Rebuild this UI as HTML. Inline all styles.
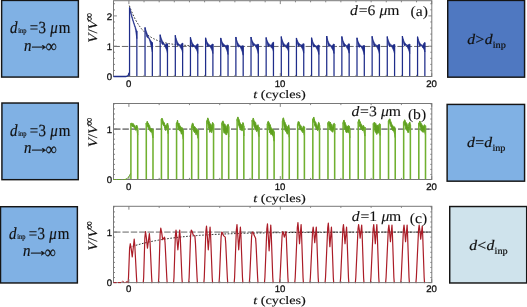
<!DOCTYPE html>
<html><head><meta charset="utf-8"><title>figure</title>
<style>html,body{margin:0;padding:0;background:#fff;overflow:hidden}svg{display:block}</style>
</head><body>
<svg width="527" height="307" viewBox="0 0 527 307" text-rendering="geometricPrecision">
<rect width="527" height="307" fill="#fff"/>
<rect x="1.62" y="0.42" width="76.75" height="76.65" fill="#80b1e4" stroke="#151515" stroke-width="1.45"/>
<rect x="1.92" y="103.02" width="76.35" height="76.65" fill="#80b1e4" stroke="#151515" stroke-width="1.45"/>
<rect x="0.52" y="206.72" width="76.85" height="76.25" fill="#80b1e4" stroke="#151515" stroke-width="1.45"/>
<rect x="447.73" y="0.42" width="76.85" height="76.75" fill="#4f78c1" stroke="#151515" stroke-width="1.45"/>
<rect x="447.12" y="104.42" width="77.45" height="76.75" fill="#80b1e4" stroke="#151515" stroke-width="1.45"/>
<rect x="449.73" y="206.53" width="76.95" height="76.45" fill="#cfe3ec" stroke="#151515" stroke-width="1.45"/>
<g font-family='"Liberation Serif","DejaVu Serif",serif' font-size="17" fill="#111" stroke="#111" stroke-width="0.2"><text transform="translate(0 33.3) scale(0.88 1)"><tspan x="11.48" font-style="italic">d</tspan><tspan x="20.8" font-size="7.3">inp</tspan><tspan x="33.86">=</tspan><tspan x="43.86">3</tspan><tspan x="57.05" font-style="italic">μ</tspan><tspan x="66.82">m</tspan></text><text transform="translate(0 50.9) scale(0.88 1)"><tspan x="27.27" font-style="italic">n</tspan><tspan x="52.05" dy="1.3" font-size="17.6">∞</tspan></text><text transform="translate(27.2 50.2) scale(1.38 1)">→</text></g>
<g font-family='"Liberation Serif","DejaVu Serif",serif' font-size="17" fill="#111" stroke="#111" stroke-width="0.2"><text transform="translate(0 135.8) scale(0.88 1)"><tspan x="11.48" font-style="italic">d</tspan><tspan x="20.8" font-size="7.3">inp</tspan><tspan x="33.86">=</tspan><tspan x="43.86">3</tspan><tspan x="57.05" font-style="italic">μ</tspan><tspan x="66.82">m</tspan></text><text transform="translate(0 153.4) scale(0.88 1)"><tspan x="27.27" font-style="italic">n</tspan><tspan x="52.05" dy="1.3" font-size="17.6">∞</tspan></text><text transform="translate(27.2 152.7) scale(1.38 1)">→</text></g>
<g font-family='"Liberation Serif","DejaVu Serif",serif' font-size="17" fill="#111" stroke="#111" stroke-width="0.2"><text transform="translate(0 238.6) scale(0.88 1)"><tspan x="10.34" font-style="italic">d</tspan><tspan x="19.66" font-size="7.3">inp</tspan><tspan x="32.73">=</tspan><tspan x="42.73">3</tspan><tspan x="55.91" font-style="italic">μ</tspan><tspan x="65.68">m</tspan></text><text transform="translate(0 256.2) scale(0.88 1)"><tspan x="26.14" font-style="italic">n</tspan><tspan x="50.91" dy="1.3" font-size="17.6">∞</tspan></text><text transform="translate(26.2 255.5) scale(1.38 1)">→</text></g>
<text transform="translate(467.3 44) scale(1.075 1)" font-family='"Liberation Serif","DejaVu Serif",serif' font-size="14.6" fill="#111" stroke="#111" stroke-width="0.2"><tspan font-style="italic">d</tspan><tspan dx="0.3">&gt;</tspan><tspan dx="0.3" font-style="italic">d</tspan><tspan font-size="9.5" dy="3.6" dx="0.2">inp</tspan></text>
<text transform="translate(467 147) scale(1.075 1)" font-family='"Liberation Serif","DejaVu Serif",serif' font-size="14.6" fill="#111" stroke="#111" stroke-width="0.2"><tspan font-style="italic">d</tspan><tspan dx="0.3">=</tspan><tspan dx="0.3" font-style="italic">d</tspan><tspan font-size="9.5" dy="3.6" dx="0.2">inp</tspan></text>
<text transform="translate(469.2 250.2) scale(1.075 1)" font-family='"Liberation Serif","DejaVu Serif",serif' font-size="14.6" fill="#111" stroke="#111" stroke-width="0.2"><tspan font-style="italic">d</tspan><tspan dx="0.3">&lt;</tspan><tspan dx="0.3" font-style="italic">d</tspan><tspan font-size="9.5" dy="3.6" dx="0.2">inp</tspan></text>
<path d="M113.5 46.45H431.8" stroke="#555" stroke-width="0.9" stroke-dasharray="6.4 1.95" fill="none"/>
<polyline points="129.35,5.6 130.11,7.68 130.87,9.65 131.63,11.53 132.38,13.31 133.14,14.99 133.9,16.59 134.65,18.11 135.41,19.55 136.17,20.92 136.92,22.21 137.68,23.44 138.44,24.61 139.2,25.72 139.95,26.77 140.71,27.76 141.47,28.71 142.22,29.61 142.98,30.46 143.74,31.26 144.49,32.03 145.25,32.76 146.01,33.45 146.77,34.1 147.52,34.72 148.28,35.31 149.04,35.87 149.79,36.4 150.55,36.9 151.31,37.38 152.06,37.83 152.82,38.26 153.58,38.66 154.34,39.05 155.09,39.42 155.85,39.77 156.61,40.1 157.36,40.41 158.12,40.71 158.88,40.99 159.63,41.25 160.39,41.51 161.15,41.75 161.91,41.98 162.66,42.19 163.42,42.4 164.18,42.59 164.93,42.78 165.69,42.95 166.45,43.12 167.2,43.28 167.96,43.43 168.72,43.57 169.48,43.7 170.23,43.83 170.99,43.95 171.75,44.07 172.5,44.18 173.26,44.28 174.02,44.38 174.77,44.47 175.53,44.56 176.29,44.65 177.05,44.73 177.8,44.8 178.56,44.87 179.32,44.94 180.07,45.01 180.83,45.07 181.59,45.13 182.34,45.18 183.1,45.23 183.86,45.28 184.62,45.33 185.37,45.37 186.13,45.42 186.89,45.46 187.64,45.49 188.4,45.53 189.16,45.56 189.91,45.6 190.67,45.63 191.43,45.66 192.19,45.69 192.94,45.71" fill="none" stroke="#1a1a1a" stroke-width="0.9" stroke-dasharray="1.7 1.5"/>
<g fill="#1f2d8a" stroke="#1f2d8a" stroke-width="0.7" stroke-linejoin="round"><polygon points="129.55,7.42 130.16,9.77 130.77,12.04 131.38,14.24 131.98,16.36 132.59,18.42 133.2,20.41 133.81,22.33 134.42,24.2 135.03,26 135.63,27.74 136.24,29.42 136.85,31.05 136.85,38.62 136.24,34.47 135.63,30.26 135.03,27.51 134.42,25.71 133.81,23.85 133.2,21.93 132.59,19.94 131.98,17.88 131.38,15.75 130.77,13.55 130.16,11.28 129.55,8.93"/><polygon points="145.04,27.41 145.65,29.48 146.26,31.34 146.87,33.03 147.47,34.56 148.08,35.94 148.69,37.2 149.3,38.33 149.91,39.35 150.52,40.28 151.12,41.12 151.73,41.88 152.34,42.56 152.34,51.96 151.73,49.03 151.12,46.27 150.52,43.7 149.91,41.38 149.3,39.43 148.69,38.29 148.08,37.73 147.47,37.7 146.87,36.97 146.26,34.48 145.65,31.27 145.04,28.51"/><polygon points="160.18,34.69 160.79,36.86 161.4,38.66 162,40.16 162.61,41.42 163.22,42.46 163.83,43.32 164.44,44.05 165.05,44.65 165.66,44.52 166.26,44.01 166.87,43.71 167.48,43.78 167.48,53.17 166.87,50.86 166.26,49.15 165.66,47.94 165.05,46.68 164.44,45.15 163.83,44.42 163.22,44.25 162.61,44.55 162,44.1 161.4,41.8 160.79,38.65 160.18,35.78"/><polygon points="175.32,35.29 175.93,37.83 176.54,39.81 177.14,41.35 177.75,42.55 178.36,43.48 178.97,44.21 179.58,44.78 180.19,45.22 180.79,44.78 181.4,43.88 182.01,43.29 182.62,43.17 182.62,52.56 182.01,50.44 181.4,49.03 180.79,48.2 180.19,47.25 179.58,45.88 178.97,45.31 178.36,45.27 177.75,45.68 177.14,45.29 176.54,42.94 175.93,39.62 175.32,36.39"/><polygon points="190.46,37.23 191.07,39.58 191.68,41.37 192.28,42.75 192.89,43.8 193.5,44.6 194.11,45.22 194.72,45.7 195.33,46.06 195.94,45.59 196.54,44.7 197.15,44.1 197.76,43.95 197.76,53.35 197.15,51.25 196.54,49.84 195.94,49.01 195.33,48.09 194.72,46.8 194.11,46.32 193.5,46.4 192.89,46.93 192.28,46.68 191.68,44.51 191.07,41.37 190.46,38.33"/><polygon points="205.6,37.84 206.21,39.87 206.82,41.42 207.43,42.6 208.03,43.51 208.64,44.21 209.25,44.74 209.86,45.15 210.47,45.46 211.08,45.18 211.68,44.59 212.29,44.2 212.9,44.12 212.9,53.51 212.29,51.35 211.68,49.74 211.08,48.6 210.47,47.49 209.86,46.25 209.25,45.84 208.64,46 208.03,46.65 207.43,46.54 206.82,44.55 206.21,41.66 205.6,38.94"/><polygon points="220.74,37.88 221.35,39.91 221.96,41.46 222.56,42.65 223.17,43.56 223.78,44.26 224.39,44.79 225,45.2 225.61,45.51 226.22,45.49 226.82,45.28 227.43,45.15 228.04,45.16 228.04,54.56 227.43,52.3 226.82,50.43 226.22,48.91 225.61,47.54 225,46.3 224.39,45.89 223.78,46.05 223.17,46.69 222.56,46.59 221.96,44.59 221.35,41.7 220.74,38.98"/><polygon points="235.88,36.97 236.49,39.41 237.1,41.28 237.7,42.72 238.31,43.81 238.92,44.66 239.53,45.3 240.14,45.79 240.75,46.17 241.35,46.15 241.96,45.92 242.57,45.78 243.18,45.8 243.18,55.19 242.57,52.93 241.96,51.07 241.35,49.58 240.75,48.2 240.14,46.89 239.53,46.4 238.92,46.45 238.31,46.95 237.7,46.66 237.1,44.42 236.49,41.2 235.88,38.07"/><polygon points="251.02,36.99 251.63,39.09 252.24,40.7 252.84,41.94 253.45,42.88 254.06,43.6 254.67,44.16 255.28,44.58 255.89,44.91 256.5,44.82 257.1,44.52 257.71,44.33 258.32,44.32 258.32,53.71 257.71,51.48 257.1,49.67 256.5,48.25 255.89,46.94 255.28,45.68 254.67,45.26 254.06,45.39 253.45,46.02 252.84,45.88 252.24,43.84 251.63,40.88 251.02,38.09"/><polygon points="266.16,37.48 266.77,39.55 267.38,41.14 267.98,42.35 268.59,43.28 269.2,44 269.81,44.54 270.42,44.96 271.03,45.28 271.63,44.55 272.24,43.28 272.85,42.43 273.46,42.19 273.46,51.58 272.85,49.58 272.24,48.43 271.63,47.97 271.03,47.31 270.42,46.06 269.81,45.64 269.2,45.79 268.59,46.42 267.98,46.29 267.38,44.27 266.77,41.34 266.16,38.58"/><polygon points="281.3,36.62 281.91,39 282.52,40.83 283.12,42.23 283.73,43.3 284.34,44.12 284.95,44.75 285.56,45.23 286.17,45.6 286.78,44.88 287.38,43.61 287.99,42.76 288.6,42.52 288.6,51.91 287.99,49.91 287.38,48.76 286.78,48.3 286.17,47.63 285.56,46.33 284.95,45.84 284.34,45.91 283.73,46.43 283.12,46.17 282.52,43.96 281.91,40.79 281.3,37.72"/><polygon points="296.44,37.91 297.05,39.77 297.66,41.2 298.27,42.29 298.87,43.13 299.48,43.77 300.09,44.26 300.7,44.64 301.31,44.93 301.92,44.69 302.52,44.17 303.13,43.83 303.74,43.76 303.74,53.15 303.13,50.98 302.52,49.32 301.92,48.11 301.31,46.96 300.7,45.74 300.09,45.36 299.48,45.56 298.87,46.27 298.27,46.23 297.66,44.33 297.05,41.56 296.44,39"/><polygon points="311.58,37.67 312.19,39.92 312.8,41.64 313.41,42.97 314.01,43.98 314.62,44.75 315.23,45.35 315.84,45.8 316.45,46.15 317.06,45.94 317.66,45.43 318.27,45.1 318.88,45.05 318.88,54.44 318.27,52.25 317.66,50.58 317.06,49.36 316.45,48.18 315.84,46.9 315.23,46.44 314.62,46.54 314.01,47.11 313.41,46.9 312.8,44.78 312.19,41.71 311.58,38.77"/><polygon points="326.72,36.04 327.33,38.66 327.94,40.67 328.55,42.21 329.15,43.38 329.76,44.29 330.37,44.98 330.98,45.51 331.59,45.91 332.2,45.53 332.8,44.74 333.41,44.22 334.02,44.11 334.02,53.5 333.41,51.37 332.8,49.89 332.2,48.95 331.59,47.94 330.98,46.61 330.37,46.07 329.76,46.08 329.15,46.52 328.55,46.15 327.94,43.8 327.33,40.45 326.72,37.14"/><polygon points="341.86,36.47 342.47,38.9 343.08,40.76 343.69,42.19 344.29,43.28 344.9,44.12 345.51,44.76 346.12,45.25 346.73,45.63 347.34,45.25 347.94,44.48 348.55,43.97 349.16,43.86 349.16,53.26 348.55,51.12 347.94,49.63 347.34,48.67 346.73,47.66 346.12,46.35 345.51,45.86 344.9,45.91 344.29,46.42 343.69,46.13 343.08,43.9 342.47,40.69 341.86,37.57"/><polygon points="357,37.87 357.61,40.1 358.22,41.8 358.82,43.11 359.43,44.11 360.04,44.88 360.65,45.47 361.26,45.92 361.87,46.26 362.48,46.13 363.08,45.74 363.69,45.49 364.3,45.47 364.3,54.86 363.69,52.64 363.08,50.89 362.48,49.55 361.87,48.29 361.26,47.02 360.65,46.56 360.04,46.67 359.43,47.25 358.82,47.05 358.22,44.94 357.61,41.89 357,38.96"/><polygon points="372.14,36.37 372.75,38.8 373.36,40.66 373.96,42.09 374.57,43.18 375.18,44.02 375.79,44.66 376.4,45.15 377.01,45.52 377.62,45.33 378.22,44.84 378.83,44.52 379.44,44.47 379.44,53.86 378.83,51.66 378.22,49.98 377.62,48.75 377.01,47.56 376.4,46.25 375.79,45.76 375.18,45.81 374.57,46.32 373.96,46.03 373.36,43.8 372.75,40.59 372.14,37.47"/><polygon points="387.28,36.6 387.89,38.96 388.5,40.77 389.1,42.16 389.71,43.22 390.32,44.04 390.93,44.66 391.54,45.14 392.15,45.5 392.75,45.31 393.36,44.83 393.97,44.51 394.58,44.47 394.58,53.86 393.97,51.66 393.36,49.97 392.75,48.73 392.15,47.53 391.54,46.24 390.93,45.76 390.32,45.83 389.71,46.36 389.1,46.1 388.5,43.91 387.89,40.75 387.28,37.7"/><polygon points="402.42,36.09 403.03,38.47 403.64,40.29 404.24,41.69 404.85,42.76 405.46,43.57 406.07,44.2 406.68,44.68 407.29,45.05 407.89,44.9 408.5,44.49 409.11,44.22 409.72,44.19 409.72,53.58 409.11,51.37 408.5,49.63 407.89,48.33 407.29,47.08 406.68,45.78 406.07,45.3 405.46,45.37 404.85,45.89 404.24,45.63 403.64,43.43 403.03,40.26 402.42,37.19"/><polygon points="417.56,36.63 418.17,38.95 418.78,40.73 419.39,42.1 419.99,43.14 420.6,43.94 421.21,44.55 421.82,45.02 422.43,45.38 423.04,44.74 423.64,43.58 424.25,42.8 424.86,42.59 424.86,51.99 424.25,49.95 423.64,48.73 423.04,48.16 422.43,47.41 421.82,46.12 421.21,45.65 420.6,45.73 419.99,46.28 419.39,46.04 418.78,43.87 418.17,40.74 417.56,37.72"/></g>
<path d="M129.55 76.5V7.42M136.85 31.05V76.5M145.04 76.5V27.41M152.34 42.56V76.5M160.18 76.5V34.69M167.48 43.78V76.5M175.32 76.5V35.29M182.62 43.17V76.5M190.46 76.5V37.23M197.76 43.95V76.5M205.6 76.5V37.84M212.9 44.12V76.5M220.74 76.5V37.88M228.04 45.16V76.5M235.88 76.5V36.97M243.18 45.8V76.5M251.02 76.5V36.99M258.32 44.32V76.5M266.16 76.5V37.48M273.46 42.19V76.5M281.3 76.5V36.62M288.6 42.52V76.5M296.44 76.5V37.91M303.74 43.76V76.5M311.58 76.5V37.67M318.88 45.05V76.5M326.72 76.5V36.04M334.02 44.11V76.5M341.86 76.5V36.47M349.16 43.86V76.5M357 76.5V37.87M364.3 45.47V76.5M372.14 76.5V36.37M379.44 44.47V76.5M387.28 76.5V36.6M394.58 44.47V76.5M402.42 76.5V36.09M409.72 44.19V76.5M417.56 76.5V36.63M424.86 42.59V76.5" fill="none" stroke="#1f2d8a" stroke-width="1.25"/>
<rect x="113.5" y="0.7" width="318.3" height="75.8" fill="none" stroke="#787878" stroke-width="1"/>
<path d="M128.9 0.7v3.4M128.9 76.5v-3.4M144.04 0.7v1.6M144.04 76.5v-1.6M159.18 0.7v1.6M159.18 76.5v-1.6M174.32 0.7v1.6M174.32 76.5v-1.6M189.46 0.7v1.6M189.46 76.5v-1.6M204.6 0.7v1.6M204.6 76.5v-1.6M219.74 0.7v1.6M219.74 76.5v-1.6M234.88 0.7v1.6M234.88 76.5v-1.6M250.02 0.7v1.6M250.02 76.5v-1.6M265.16 0.7v1.6M265.16 76.5v-1.6M280.3 0.7v3.4M280.3 76.5v-3.4M295.44 0.7v1.6M295.44 76.5v-1.6M310.58 0.7v1.6M310.58 76.5v-1.6M325.72 0.7v1.6M325.72 76.5v-1.6M340.86 0.7v1.6M340.86 76.5v-1.6M356 0.7v1.6M356 76.5v-1.6M371.14 0.7v1.6M371.14 76.5v-1.6M386.28 0.7v1.6M386.28 76.5v-1.6M401.42 0.7v1.6M401.42 76.5v-1.6M416.56 0.7v1.6M416.56 76.5v-1.6M431.7 0.7v3.4M431.7 76.5v-3.4M113.5 76.5h3.4M431.8 76.5h-3.4M113.5 70.44h1.5M431.8 70.44h-1.5M113.5 64.38h1.5M431.8 64.38h-1.5M113.5 58.32h1.5M431.8 58.32h-1.5M113.5 52.26h1.5M431.8 52.26h-1.5M113.5 46.2h3.4M431.8 46.2h-3.4M113.5 40.14h1.5M431.8 40.14h-1.5M113.5 34.08h1.5M431.8 34.08h-1.5M113.5 28.02h1.5M431.8 28.02h-1.5M113.5 21.96h1.5M431.8 21.96h-1.5M113.5 15.9h3.4M431.8 15.9h-3.4M113.5 9.84h1.5M431.8 9.84h-1.5M113.5 3.78h1.5M431.8 3.78h-1.5" fill="none" stroke="#787878" stroke-width="0.9"/>
<path d="M113.5 76.5L125.87 76.5L128.14 75.59L129.2 72.86" fill="none" stroke="#1f2d8a" stroke-width="1.3"/>
<text transform="translate(112.2 80.1) scale(1.0 1)" text-anchor="end" font-family='"Liberation Sans","DejaVu Sans",sans-serif' font-size="9.6" fill="#111" stroke="#111" stroke-width="0.3">0</text>
<text transform="translate(112.2 49.8) scale(1.0 1)" text-anchor="end" font-family='"Liberation Sans","DejaVu Sans",sans-serif' font-size="9.6" fill="#111" stroke="#111" stroke-width="0.3">1</text>
<text transform="translate(112.2 19.5) scale(1.0 1)" text-anchor="end" font-family='"Liberation Sans","DejaVu Sans",sans-serif' font-size="9.6" fill="#111" stroke="#111" stroke-width="0.3">2</text>
<text transform="translate(128.7 86.7) scale(1.0 1)" text-anchor="middle" font-family='"Liberation Sans","DejaVu Sans",sans-serif' font-size="9.6" fill="#111" stroke="#111" stroke-width="0.3">0</text>
<text transform="translate(280.1 86.7) scale(1.0 1)" text-anchor="middle" font-family='"Liberation Sans","DejaVu Sans",sans-serif' font-size="9.6" fill="#111" stroke="#111" stroke-width="0.3">10</text>
<text transform="translate(431.5 86.7) scale(1.0 1)" text-anchor="middle" font-family='"Liberation Sans","DejaVu Sans",sans-serif' font-size="9.6" fill="#111" stroke="#111" stroke-width="0.3">20</text>
<text transform="translate(253.2 97.7) scale(1.24 1)" font-family='"Liberation Serif","DejaVu Serif",serif' font-size="11.5" fill="#111" stroke="#111" stroke-width="0.15"><tspan font-style="italic">t</tspan> (cycles)</text>
<text transform="translate(97.4 42.7) rotate(-90) scale(1.15 1)" font-family='"Liberation Serif","DejaVu Serif",serif' font-size="13" fill="#111" stroke="#111" stroke-width="0.15"><tspan font-style="italic">V</tspan>/<tspan font-style="italic">V</tspan></text>
<text transform="translate(92.6 21.1) rotate(-90) scale(0.9 1)" font-family='"Liberation Serif","DejaVu Serif",serif' font-size="12.5" fill="#111" stroke="#111" stroke-width="0.15">∞</text>
<g font-family='"Liberation Serif","DejaVu Serif",serif' font-size="14.5" fill="#111" stroke="#111" stroke-width="0.1"><text transform="translate(350 15.4) scale(1.08 1)"><tspan x="0" font-style="italic">d</tspan><tspan x="8.06">=</tspan><tspan x="16.2">6</tspan><tspan x="27.41" font-style="italic">μ</tspan><tspan x="34.54">m</tspan></text><text transform="translate(410.6 15.6) scale(1.08 1)">(a)</text></g>
<path d="M114.1 129.1H431.8" stroke="#868686" stroke-width="1.6" stroke-dasharray="6.4 1.95" fill="none"/>
<g fill="#5f9f1f" stroke="#64a524" stroke-width="1.0" stroke-linejoin="round"><polygon points="130.9,123.34 131.39,123.28 131.87,123.26 132.36,124.15 132.84,123.3 133.33,123.65 133.81,124.58 134.3,125.37 134.79,125.39 135.27,126.66 135.76,127.73 136.24,125.74 136.73,125.01 137.21,126.17 137.7,127.92 137.7,135.07 137.21,131.88 136.73,128.38 136.24,128.78 135.76,130.38 135.27,129.29 134.79,128.49 134.3,127.77 133.81,127.24 133.33,125.92 132.84,125.92 132.36,126.82 131.87,125.49 131.39,125.7 130.9,124.53"/><polygon points="146.29,123.02 146.77,122.86 147.25,121.16 147.73,122.97 148.2,122.97 148.68,123.85 149.16,125.57 149.64,125.42 150.12,127.68 150.6,128.28 151.08,128.35 151.55,128.72 152.03,128.58 152.51,128.88 152.99,129.67 152.99,137.88 152.51,136.09 152.03,133.26 151.55,131.55 151.08,132.21 150.6,131.75 150.12,131.21 149.64,130.28 149.16,129.67 148.68,127.94 148.2,127.79 147.73,127.04 147.25,123.97 146.77,125.38 146.29,124.22"/><polygon points="161.43,119.22 161.91,118.07 162.39,118.66 162.87,120.37 163.34,121.48 163.82,122.17 164.3,122.86 164.78,124.48 165.26,125.19 165.74,126.24 166.22,125.41 166.69,124.56 167.17,123.54 167.65,123.01 168.13,125.58 168.13,133.72 167.65,130.27 167.17,127.83 166.69,127.89 166.22,128.59 165.74,130.66 165.26,128.98 164.78,128.1 164.3,126.48 163.82,126.06 163.34,125.13 162.87,124.55 162.39,121.93 161.91,121.19 161.43,121.41"/><polygon points="176.57,123.02 177.05,122.03 177.53,120.04 178.01,122.75 178.48,123.99 178.96,123.02 179.44,124.52 179.92,126.08 180.4,126.15 180.88,127.01 181.36,128.82 181.83,127.35 182.31,128.02 182.79,128.85 183.27,130.43 183.27,139.19 182.79,135.85 182.31,134.35 181.83,132.52 181.36,134.16 180.88,131.86 180.4,131.54 179.92,131.15 179.44,129.96 178.96,129.55 178.48,129.86 178.01,128.12 177.53,124.5 177.05,124.52 176.57,125.28"/><polygon points="191.71,126.06 192.19,123.45 192.67,122.99 193.15,123.77 193.62,126 194.1,126.76 194.58,126.6 195.06,126.84 195.54,127.88 196.02,129.68 196.5,128.54 196.97,128.93 197.45,130.33 197.93,130.55 198.41,130.1 198.41,138.75 197.93,138.23 197.45,136.4 196.97,133.31 196.5,133.59 196.02,134.76 195.54,133.38 195.06,132.07 194.58,132.68 194.1,131.95 193.62,131.08 193.15,128.58 192.67,127.92 192.19,126.46 191.71,128.11"/><polygon points="206.85,120.69 207.33,119.53 207.81,117.86 208.29,119.03 208.76,120.48 209.24,121.75 209.72,123.86 210.2,123.58 210.68,123.99 211.16,125.08 211.64,126.67 212.11,124.19 212.59,122.34 213.07,123.06 213.55,124.23 213.55,134.07 213.07,131.11 212.59,129.13 212.11,129.86 211.64,132.7 211.16,132.34 210.68,131 210.2,131.08 209.72,132.38 209.24,129.26 208.76,128.09 208.29,126.81 207.81,123.05 207.33,124.06 206.85,121.89"/><polygon points="221.99,122.71 222.47,121.34 222.95,120.85 223.43,121.96 223.9,123.7 224.38,124.19 224.86,123.87 225.34,125.46 225.82,125.76 226.3,127.43 226.78,127.41 227.25,124.9 227.73,124.57 228.21,124.22 228.69,126.38 228.69,136.95 228.21,133.3 227.73,132.74 227.25,131.64 226.78,134.21 226.3,135.06 225.82,134.14 225.34,133.83 224.86,132.71 224.38,133.2 223.9,132.94 223.43,129.35 222.95,126.46 222.47,125.65 221.99,125.1"/><polygon points="237.13,119.2 237.61,117.18 238.09,116.98 238.57,119.46 239.04,119.21 239.52,121.92 240,122.36 240.48,123.79 240.96,123.94 241.44,124.47 241.92,125.27 242.39,124.88 242.87,122.48 243.35,123.04 243.83,125.88 243.83,135.91 243.35,130.64 242.87,128.28 242.39,130.51 241.92,130.83 241.44,129.53 240.96,130.21 240.48,129.26 240,128.09 239.52,127.93 239.04,126.13 238.57,125.35 238.09,122.43 237.61,120.89 237.13,120.94"/><polygon points="252.27,120 252.75,119.44 253.23,117.97 253.71,119.34 254.18,121.38 254.66,121.07 255.14,123.08 255.62,122.48 256.1,124.71 256.58,125.67 257.06,125.82 257.53,125.37 258.01,124.73 258.49,126.71 258.97,127.02 258.97,136.55 258.49,135.04 258.01,130.51 257.53,130.96 257.06,130.49 256.58,131.59 256.1,130.1 255.62,129.21 255.14,130.08 254.66,127.55 254.18,127.42 253.71,124.96 253.23,121.96 252.75,122.54 252.27,121.52"/><polygon points="267.41,123.71 267.89,121.47 268.37,121.31 268.85,122.19 269.32,123.08 269.8,125.01 270.28,124.66 270.76,127.09 271.24,127.67 271.72,128.62 272.2,129.18 272.67,129.09 273.15,129.44 273.63,130.31 274.11,131.64 274.11,141.22 273.63,138.58 273.15,136.47 272.67,135.41 272.2,135.16 271.72,134.55 271.24,134.03 270.76,134.41 270.28,131.93 269.8,132.95 269.32,130.66 268.85,128.42 268.37,126.28 267.89,125.53 267.41,124.82"/><polygon points="282.55,120.65 283.03,117.95 283.51,117.89 283.99,119.9 284.46,121.35 284.94,121.95 285.42,123.8 285.9,124.19 286.38,125.91 286.86,127.7 287.34,128.18 287.81,126.24 288.29,125.86 288.77,124.87 289.25,128.1 289.25,137.28 288.77,133.2 288.29,132.94 287.81,131.14 287.34,134.25 286.86,133.15 286.38,131.98 285.9,131 285.42,131.2 284.94,129.8 284.46,128.29 283.99,126.67 283.51,122.92 283.03,120.95 282.55,122.38"/><polygon points="297.69,123.67 298.17,121.43 298.65,121.8 299.13,121.86 299.6,123.92 300.08,124.67 300.56,125.2 301.04,125.95 301.52,127.17 302,127.63 302.48,128.71 302.95,127.17 303.43,126.04 303.91,126.17 304.39,127.11 304.39,135.41 303.91,133.33 303.43,131.63 302.95,131.25 302.48,132.54 302,131.24 301.52,131.03 301.04,129.86 300.56,129.58 300.08,129.6 299.6,128.02 299.13,126.02 298.65,125.19 298.17,125 297.69,125.07"/><polygon points="312.83,118.82 313.31,118.99 313.79,116.97 314.27,118.6 314.74,121 315.22,121.41 315.7,121.92 316.18,123.45 316.66,124.32 317.14,126.28 317.62,126.79 318.09,124.5 318.57,122.33 319.05,122.63 319.53,125.2 319.53,132.88 319.05,129.72 318.57,127.71 318.09,128.93 317.62,130.67 317.14,129.84 316.66,129.06 316.18,128.66 315.7,127.21 315.22,126.84 314.74,125.84 314.27,123.49 313.79,120.91 313.31,122.34 312.83,120.8"/><polygon points="327.97,122.48 328.45,122.22 328.93,121.34 329.41,122.13 329.88,122.99 330.36,122.15 330.84,124.03 331.32,124.1 331.8,124.89 332.28,126.63 332.76,126.33 333.23,124.19 333.71,123.6 334.19,123.26 334.67,124.04 334.67,133.74 334.19,131.43 333.71,129.33 333.23,129.53 332.76,132.22 332.28,131.89 331.8,131.19 331.32,130.86 330.84,130.65 330.36,128.99 329.88,130.02 329.41,128.51 328.93,125.66 328.45,126.09 327.97,124.48"/><polygon points="343.11,122.62 343.59,120.55 344.07,119.96 344.55,122.9 345.02,122.21 345.5,123.84 345.98,125.17 346.46,126.01 346.94,126.97 347.42,126.14 347.9,126.77 348.37,125.43 348.85,126.18 349.33,126.11 349.81,128.61 349.81,137.92 349.33,133.18 348.85,133.05 348.37,130.83 347.9,132.15 347.42,131.22 346.94,132.91 346.46,132.31 345.98,132.29 345.5,130.13 345.02,129.38 344.55,128.7 344.07,125.45 343.59,123.53 343.11,123.8"/><polygon points="358.25,121.85 358.73,119.65 359.21,119.42 359.69,121.73 360.16,121.49 360.64,123.26 361.12,123.94 361.6,124.41 362.08,125.58 362.56,127.18 363.04,126.13 363.51,125.37 363.99,126.6 364.47,127.32 364.95,127.09 364.95,136.09 364.47,133.91 363.99,131.77 363.51,128.88 363.04,129.86 362.56,130.81 362.08,129.65 361.6,128.77 361.12,129.44 360.64,127.94 360.16,126.86 359.69,126.75 359.21,123.65 358.73,121.73 358.25,123.34"/><polygon points="373.39,123.42 373.87,122.67 374.35,122.07 374.83,122.66 375.3,124.19 375.78,123.45 376.26,124.9 376.74,125.78 377.22,124.93 377.7,126.08 378.18,126.28 378.65,125.23 379.13,124.07 379.61,123.58 380.09,124.13 380.09,135.47 379.61,132.35 379.13,132.48 378.65,131.49 378.18,133.29 377.7,133.36 377.22,132.55 376.74,134.54 376.26,133.47 375.78,131.98 375.3,132.34 374.83,130.8 374.35,128.37 373.87,126.26 373.39,125.26"/><polygon points="388.53,120.85 389.01,119.65 389.49,118.96 389.97,118.88 390.44,120.92 390.92,121.74 391.4,123.13 391.88,124.24 392.36,125.51 392.84,125.45 393.32,127.03 393.79,127 394.27,126.91 394.75,126.86 395.23,129.78 395.23,137.62 394.75,134.37 394.27,132.93 393.79,130.93 393.32,130.95 392.84,130.45 392.36,130.16 391.88,129.77 391.4,127.48 390.92,126.71 390.44,125.83 389.97,123.87 389.49,122.96 389.01,122.18 388.53,122.38"/><polygon points="403.67,121.87 404.15,121.06 404.63,119.72 405.11,120.31 405.58,122.87 406.06,122.82 406.54,122.73 407.02,124.07 407.5,125.18 407.98,126.74 408.46,126.38 408.93,123.14 409.41,122.78 409.89,121.92 410.37,124.85 410.37,133.55 409.89,130.04 409.41,128.7 408.93,127.97 408.46,132.42 407.98,132.84 407.5,131.2 407.02,130.69 406.54,129.56 406.06,129.79 405.58,128.86 405.11,125.83 404.63,125.11 404.15,125.16 403.67,122.88"/><polygon points="418.81,123.11 419.29,122.33 419.77,120.97 420.25,121.51 420.72,122.69 421.2,123.95 421.68,123.81 422.16,125.95 422.64,125.38 423.12,126.95 423.6,125.86 424.07,126.18 424.55,124.63 425.03,125.41 425.51,125.86 425.51,134.98 425.03,133.42 424.55,130.91 424.07,130.74 423.6,130.5 423.12,132.51 422.64,130.81 422.16,131.74 421.68,129.56 421.2,130.88 420.72,128.36 420.25,127.6 419.77,126.23 419.29,125.33 418.81,125.02"/></g>
<path d="M130.9 179.5V123.34M137.7 127.92V179.5M146.29 179.5V123.02M152.99 129.67V179.5M161.43 179.5V119.22M168.13 125.58V179.5M176.57 179.5V123.02M183.27 130.43V179.5M191.71 179.5V126.06M198.41 130.1V179.5M206.85 179.5V120.69M213.55 124.23V179.5M221.99 179.5V122.71M228.69 126.38V179.5M237.13 179.5V119.2M243.83 125.88V179.5M252.27 179.5V120M258.97 127.02V179.5M267.41 179.5V123.71M274.11 131.64V179.5M282.55 179.5V120.65M289.25 128.1V179.5M297.69 179.5V123.67M304.39 127.11V179.5M312.83 179.5V118.82M319.53 125.2V179.5M327.97 179.5V122.48M334.67 124.04V179.5M343.11 179.5V122.62M349.81 128.61V179.5M358.25 179.5V121.85M364.95 127.09V179.5M373.39 179.5V123.42M380.09 124.13V179.5M388.53 179.5V120.85M395.23 129.78V179.5M403.67 179.5V121.87M410.37 124.85V179.5M418.81 179.5V123.11M425.51 125.86V179.5" fill="none" stroke="#70b030" stroke-width="1.55"/>
<rect x="113.5" y="103.5" width="318.3" height="76" fill="none" stroke="#787878" stroke-width="1"/>
<path d="M128.9 103.5v3.4M128.9 179.5v-3.4M159.18 103.5v1.6M159.18 179.5v-1.6M189.46 103.5v1.6M189.46 179.5v-1.6M219.74 103.5v1.6M219.74 179.5v-1.6M250.02 103.5v1.6M250.02 179.5v-1.6M280.3 103.5v3.4M280.3 179.5v-3.4M310.58 103.5v1.6M310.58 179.5v-1.6M340.86 103.5v1.6M340.86 179.5v-1.6M371.14 103.5v1.6M371.14 179.5v-1.6M401.42 103.5v1.6M401.42 179.5v-1.6M431.7 103.5v3.4M431.7 179.5v-3.4M113.5 179.5h3.4M431.8 179.5h-3.4M113.5 174.46h1.5M431.8 174.46h-1.5M113.5 169.42h1.5M431.8 169.42h-1.5M113.5 164.38h1.5M431.8 164.38h-1.5M113.5 159.34h1.5M431.8 159.34h-1.5M113.5 154.3h1.5M431.8 154.3h-1.5M113.5 149.26h1.5M431.8 149.26h-1.5M113.5 144.22h1.5M431.8 144.22h-1.5M113.5 139.18h1.5M431.8 139.18h-1.5M113.5 134.14h1.5M431.8 134.14h-1.5M113.5 129.1h3.4M431.8 129.1h-3.4M113.5 124.06h1.5M431.8 124.06h-1.5M113.5 119.02h1.5M431.8 119.02h-1.5M113.5 113.98h1.5M431.8 113.98h-1.5M113.5 108.94h1.5M431.8 108.94h-1.5M113.5 103.9h1.5M431.8 103.9h-1.5" fill="none" stroke="#787878" stroke-width="0.9"/>
<path d="M113.5 179.5L125.12 179.5L128.6 177.48L130.5 173.45" fill="none" stroke="#64a524" stroke-width="0.9" stroke-dasharray="2.5 1 4 2 40"/>
<text transform="translate(112.2 183.1) scale(1.0 1)" text-anchor="end" font-family='"Liberation Sans","DejaVu Sans",sans-serif' font-size="9.6" fill="#111" stroke="#111" stroke-width="0.3">0</text>
<text transform="translate(112.2 132.7) scale(1.0 1)" text-anchor="end" font-family='"Liberation Sans","DejaVu Sans",sans-serif' font-size="9.6" fill="#111" stroke="#111" stroke-width="0.3">1</text>
<text transform="translate(128.7 190.1) scale(1.0 1)" text-anchor="middle" font-family='"Liberation Sans","DejaVu Sans",sans-serif' font-size="9.6" fill="#111" stroke="#111" stroke-width="0.3">0</text>
<text transform="translate(280.1 190.1) scale(1.0 1)" text-anchor="middle" font-family='"Liberation Sans","DejaVu Sans",sans-serif' font-size="9.6" fill="#111" stroke="#111" stroke-width="0.3">10</text>
<text transform="translate(431.5 190.1) scale(1.0 1)" text-anchor="middle" font-family='"Liberation Sans","DejaVu Sans",sans-serif' font-size="9.6" fill="#111" stroke="#111" stroke-width="0.3">20</text>
<text transform="translate(253.2 201.9) scale(1.24 1)" font-family='"Liberation Serif","DejaVu Serif",serif' font-size="11.5" fill="#111" stroke="#111" stroke-width="0.15"><tspan font-style="italic">t</tspan> (cycles)</text>
<text transform="translate(97.4 147.3) rotate(-90) scale(1.15 1)" font-family='"Liberation Serif","DejaVu Serif",serif' font-size="13" fill="#111" stroke="#111" stroke-width="0.15"><tspan font-style="italic">V</tspan>/<tspan font-style="italic">V</tspan></text>
<text transform="translate(92.6 125.7) rotate(-90) scale(0.9 1)" font-family='"Liberation Serif","DejaVu Serif",serif' font-size="12.5" fill="#111" stroke="#111" stroke-width="0.15">∞</text>
<g font-family='"Liberation Serif","DejaVu Serif",serif' font-size="14.5" fill="#111" stroke="#111" stroke-width="0.1"><text transform="translate(351.4 115.5) scale(1.08 1)"><tspan x="0" font-style="italic">d</tspan><tspan x="8.06">=</tspan><tspan x="16.2">3</tspan><tspan x="27.41" font-style="italic">μ</tspan><tspan x="34.54">m</tspan></text><text transform="translate(407.9 118.6) scale(1.08 1)">(b)</text></g>
<path d="M114.1 232.1H431.8" stroke="#a6a6a6" stroke-width="1.9" stroke-dasharray="6.4 1.95" fill="none"/>
<polyline points="129.66,247.25 131.17,246.75 132.69,246.27 134.2,245.81 135.71,245.36 137.23,244.92 138.74,244.5 140.25,244.1 141.77,243.7 143.28,243.32 144.8,242.96 146.31,242.6 147.83,242.26 149.34,241.92 150.85,241.6 152.37,241.29 153.88,240.99 155.4,240.7 156.91,240.41 158.42,240.14 159.94,239.88 161.45,239.62 162.97,239.38 164.48,239.14 165.99,238.91 167.51,238.68 169.02,238.47 170.54,238.26 172.05,238.06 173.56,237.86 175.08,237.67 176.59,237.49 178.11,237.31 179.62,237.14 181.13,236.98 182.65,236.82 184.16,236.66 185.68,236.51 187.19,236.37 188.7,236.23 190.22,236.09 191.73,235.96 193.25,235.84 194.76,235.71 196.27,235.6 197.79,235.48 199.3,235.37 200.81,235.26 202.33,235.16 203.84,235.06 205.36,234.96 206.87,234.87 208.38,234.78 209.9,234.69 211.41,234.6 212.93,234.52 214.44,234.44 215.95,234.37 217.47,234.29 218.98,234.22 220.5,234.15 222.01,234.08 223.52,234.02 225.04,233.96 226.55,233.89 228.07,233.84 229.58,233.78 231.09,233.72 232.61,233.67 234.12,233.62 235.64,233.57 237.15,233.52 238.66,233.47 240.18,233.43 241.69,233.39 243.21,233.34 244.72,233.3 246.23,233.26 247.75,233.23 249.26,233.19 250.78,233.15 252.29,233.12 253.8,233.08 255.32,233.05 256.83,233.02 258.35,232.99 259.86,232.96 261.37,232.93 262.89,232.91 264.4,232.88 265.92,232.85 267.43,232.83 268.94,232.81 270.46,232.78 271.97,232.76 273.49,232.74 275,232.72 276.51,232.7 278.03,232.68 279.54,232.66 281.06,232.64 282.57,232.62 284.08,232.61 285.6,232.59 287.11,232.57 288.63,232.56 290.14,232.54 291.65,232.53 293.17,232.51 294.68,232.5 296.2,232.49 297.71,232.47 299.22,232.46 300.74,232.45 302.25,232.44 303.77,232.43 305.28,232.42 306.79,232.41 308.31,232.4 309.82,232.39 311.34,232.38 312.85,232.37 314.36,232.36 315.88,232.35 317.39,232.34 318.91,232.33 320.42,232.33 321.93,232.32 323.45,232.31 324.96,232.31 326.48,232.3 327.99,232.29 329.5,232.29 331.02,232.28 332.53,232.27 334.05,232.27 335.56,232.26 337.07,232.26 338.59,232.25 340.1,232.25 341.62,232.24 343.13,232.24 344.64,232.23 346.16,232.23 347.67,232.22 349.19,232.22 350.7,232.22 352.21,232.21 353.73,232.21 355.24,232.21 356.76,232.2 358.27,232.2 359.78,232.2 361.3,232.19 362.81,232.19 364.33,232.19 365.84,232.18 367.35,232.18 368.87,232.18 370.38,232.18 371.9,232.17 373.41,232.17 374.92,232.17 376.44,232.17 377.95,232.16 379.47,232.16 380.98,232.16 382.49,232.16 384.01,232.16 385.52,232.15 387.04,232.15 388.55,232.15 390.06,232.15 391.58,232.15 393.09,232.15 394.61,232.14 396.12,232.14 397.63,232.14 399.15,232.14 400.66,232.14 402.18,232.14 403.69,232.14 405.2,232.14 406.72,232.13 408.23,232.13 409.75,232.13 411.26,232.13 412.77,232.13 414.29,232.13 415.8,232.13 417.32,232.13 418.83,232.13 420.35,232.13 421.86,232.12 423.37,232.12 424.89,232.12 426.4,232.12 427.92,232.12 429.43,232.12 430.94,232.12" fill="none" stroke="#1a1a1a" stroke-width="0.9" stroke-dasharray="1.7 1.5"/>
<path d="M128.1 283.11L128.5 277.55L129.6 248.38L130.3 243.72L131.28 249.27L132.25 256.85L133.23 248.01L134.2 239.17L134.8 245.25L136.5 277.55L136.9 283.11M143.25 283.11L143.66 277.55L144.85 237.55L145.54 231.6L146.5 238.92L147.46 248.26L148.42 240.94L149.37 233.62L149.96 240.47L151.64 277.55L152.04 283.11M158.4 283.11L158.81 277.55L160.1 234.24L160.78 228.06L161.72 232.86L162.66 239.68L163.61 238.41L164.55 237.15L165.11 243.51L166.78 277.55L167.18 283.11M173.55 283.11L173.97 277.55L175.35 235.86L176.02 230.08L176.94 238.92L177.87 249.78L178.79 239.93L179.72 230.08L180.27 237.43L181.92 277.55L182.32 283.11M188.69 283.11L189.13 277.55L190.59 235.68L191.26 230.08L192.17 231.34L193.08 234.63L193.99 235.38L194.89 236.14L195.43 242.64L197.06 277.55L197.46 283.11M203.84 283.11L204.28 277.55L205.84 231.88L206.5 226.04L207.39 236.9L208.28 249.78L209.18 238.41L210.07 227.05L210.58 234.83L212.2 277.55L212.6 283.11M218.99 283.11L219.44 277.55L221.09 237.15L221.74 232.1L222.62 232.86L223.49 235.64L224.37 236.39L225.24 237.15L225.74 243.51L227.34 277.55L227.74 283.11M234.14 283.11L234.6 277.55L236.34 230.14L236.98 224.53L237.84 236.14L238.7 249.78L239.56 238.41L240.41 227.05L240.9 234.83L242.48 277.55L242.88 283.11M249.29 283.11L249.75 277.55L251.59 236.81L252.22 232.1L253.06 232.35L253.9 234.63L254.75 236.39L255.59 238.16L256.05 244.38L257.62 277.55L258.02 283.11M264.43 283.11L264.91 277.55L266.83 229.06L267.46 223.77L268.28 236.27L269.11 250.79L269.93 237.91L270.76 225.03L271.21 233.09L272.76 277.55L273.16 283.11M279.58 283.11L280.07 277.55L282.08 236.02L282.7 231.6L283.51 233.36L284.32 237.15L285.12 234.37L285.93 231.6L286.37 238.74L287.9 277.55L288.3 283.11M294.73 283.11L295.22 277.55L297.33 227.51L297.94 222.51L298.73 232.1L299.52 243.72L300.32 234.12L301.11 224.53L301.52 232.66L303.04 277.55L303.44 283.11M309.88 283.11L310.38 277.55L312.58 231.49L313.18 227.05L313.96 233.87L314.73 242.71L315.5 234.88L316.28 227.05L316.68 234.83L318.18 277.55L318.58 283.11M325.02 283.11L325.52 277.55L327.72 227.78L328.32 223.01L329.1 233.87L329.87 246.75L330.64 236.9L331.42 227.05L331.82 234.83L333.32 277.55L333.72 283.11M340.16 283.11L340.66 277.55L342.86 229.17L343.46 224.53L344.24 233.11L345.01 243.72L345.78 235.38L346.56 227.05L346.96 234.83L348.46 277.55L348.86 283.11M355.3 283.11L355.8 277.55L358 229.17L358.6 224.53L359.38 230.33L360.15 238.16L360.92 231.6L361.7 225.03L362.1 233.09L363.6 277.55L364 283.11M370.44 283.11L370.94 277.55L373.14 229.17L373.74 224.53L374.51 233.11L375.29 243.72L376.06 234.12L376.84 224.53L377.24 232.66L378.74 277.55L379.14 283.11M385.58 283.11L386.08 277.55L388.28 229.64L388.88 225.03L389.65 232.35L390.43 241.7L391.2 233.36L391.98 225.03L392.38 233.09L393.88 277.55L394.28 283.11M400.72 283.11L401.22 277.55L403.42 229.64L404.02 225.03L404.79 232.35L405.57 241.7L406.34 233.36L407.12 225.03L407.52 233.09L409.02 277.55L409.42 283.11M415.86 283.11L416.36 277.55L418.56 229.64L419.16 225.03L419.94 231.09L420.71 239.17L421.49 232.61L422.26 226.04L422.66 233.96L424.16 277.55L424.56 283.11" fill="none" stroke="#ab1c27" stroke-width="1.2" stroke-linejoin="round"/>
<rect x="113.5" y="206.3" width="318.3" height="76.3" fill="none" stroke="#787878" stroke-width="1"/>
<path d="M128.9 206.3v3.4M128.9 282.6v-3.4M159.18 206.3v1.6M159.18 282.6v-1.6M189.46 206.3v1.6M189.46 282.6v-1.6M219.74 206.3v1.6M219.74 282.6v-1.6M250.02 206.3v1.6M250.02 282.6v-1.6M280.3 206.3v3.4M280.3 282.6v-3.4M310.58 206.3v1.6M310.58 282.6v-1.6M340.86 206.3v1.6M340.86 282.6v-1.6M371.14 206.3v1.6M371.14 282.6v-1.6M401.42 206.3v1.6M401.42 282.6v-1.6M431.7 206.3v3.4M431.7 282.6v-3.4M113.5 282.6h3.4M431.8 282.6h-3.4M113.5 277.55h1.5M431.8 277.55h-1.5M113.5 272.5h1.5M431.8 272.5h-1.5M113.5 267.45h1.5M431.8 267.45h-1.5M113.5 262.4h1.5M431.8 262.4h-1.5M113.5 257.35h1.5M431.8 257.35h-1.5M113.5 252.3h1.5M431.8 252.3h-1.5M113.5 247.25h1.5M431.8 247.25h-1.5M113.5 242.2h1.5M431.8 242.2h-1.5M113.5 237.15h1.5M431.8 237.15h-1.5M113.5 232.1h3.4M431.8 232.1h-3.4M113.5 227.05h1.5M431.8 227.05h-1.5M113.5 222h1.5M431.8 222h-1.5M113.5 216.95h1.5M431.8 216.95h-1.5M113.5 211.9h1.5M431.8 211.9h-1.5M113.5 206.85h1.5M431.8 206.85h-1.5" fill="none" stroke="#787878" stroke-width="0.9"/>
<path d="M113.5 282.6L121.33 282.6L122.54 281.09L124.36 282.6L127.39 281.59L128.1 282.6" fill="none" stroke="#ab1c27" stroke-width="1" stroke-dasharray="3 1.5"/>
<text transform="translate(112.2 286.2) scale(1.0 1)" text-anchor="end" font-family='"Liberation Sans","DejaVu Sans",sans-serif' font-size="9.6" fill="#111" stroke="#111" stroke-width="0.3">0</text>
<text transform="translate(112.2 235.7) scale(1.0 1)" text-anchor="end" font-family='"Liberation Sans","DejaVu Sans",sans-serif' font-size="9.6" fill="#111" stroke="#111" stroke-width="0.3">1</text>
<text transform="translate(128.7 292.4) scale(1.0 1)" text-anchor="middle" font-family='"Liberation Sans","DejaVu Sans",sans-serif' font-size="9.6" fill="#111" stroke="#111" stroke-width="0.3">0</text>
<text transform="translate(280.1 292.4) scale(1.0 1)" text-anchor="middle" font-family='"Liberation Sans","DejaVu Sans",sans-serif' font-size="9.6" fill="#111" stroke="#111" stroke-width="0.3">10</text>
<text transform="translate(431.5 292.4) scale(1.0 1)" text-anchor="middle" font-family='"Liberation Sans","DejaVu Sans",sans-serif' font-size="9.6" fill="#111" stroke="#111" stroke-width="0.3">20</text>
<text transform="translate(253.2 304.2) scale(1.24 1)" font-family='"Liberation Serif","DejaVu Serif",serif' font-size="11.5" fill="#111" stroke="#111" stroke-width="0.15"><tspan font-style="italic">t</tspan> (cycles)</text>
<text transform="translate(97.4 250.8) rotate(-90) scale(1.15 1)" font-family='"Liberation Serif","DejaVu Serif",serif' font-size="13" fill="#111" stroke="#111" stroke-width="0.15"><tspan font-style="italic">V</tspan>/<tspan font-style="italic">V</tspan></text>
<text transform="translate(92.6 229.2) rotate(-90) scale(0.9 1)" font-family='"Liberation Serif","DejaVu Serif",serif' font-size="12.5" fill="#111" stroke="#111" stroke-width="0.15">∞</text>
<g font-family='"Liberation Serif","DejaVu Serif",serif' font-size="14.5" fill="#111" stroke="#111" stroke-width="0.1"><text transform="translate(351.8 220.7) scale(1.08 1)"><tspan x="0" font-style="italic">d</tspan><tspan x="8.06">=</tspan><tspan x="16.2">1</tspan><tspan x="27.41" font-style="italic">μ</tspan><tspan x="34.54">m</tspan></text><text transform="translate(409.8 223) scale(1.08 1)">(c)</text></g>
</svg>
</body></html>
